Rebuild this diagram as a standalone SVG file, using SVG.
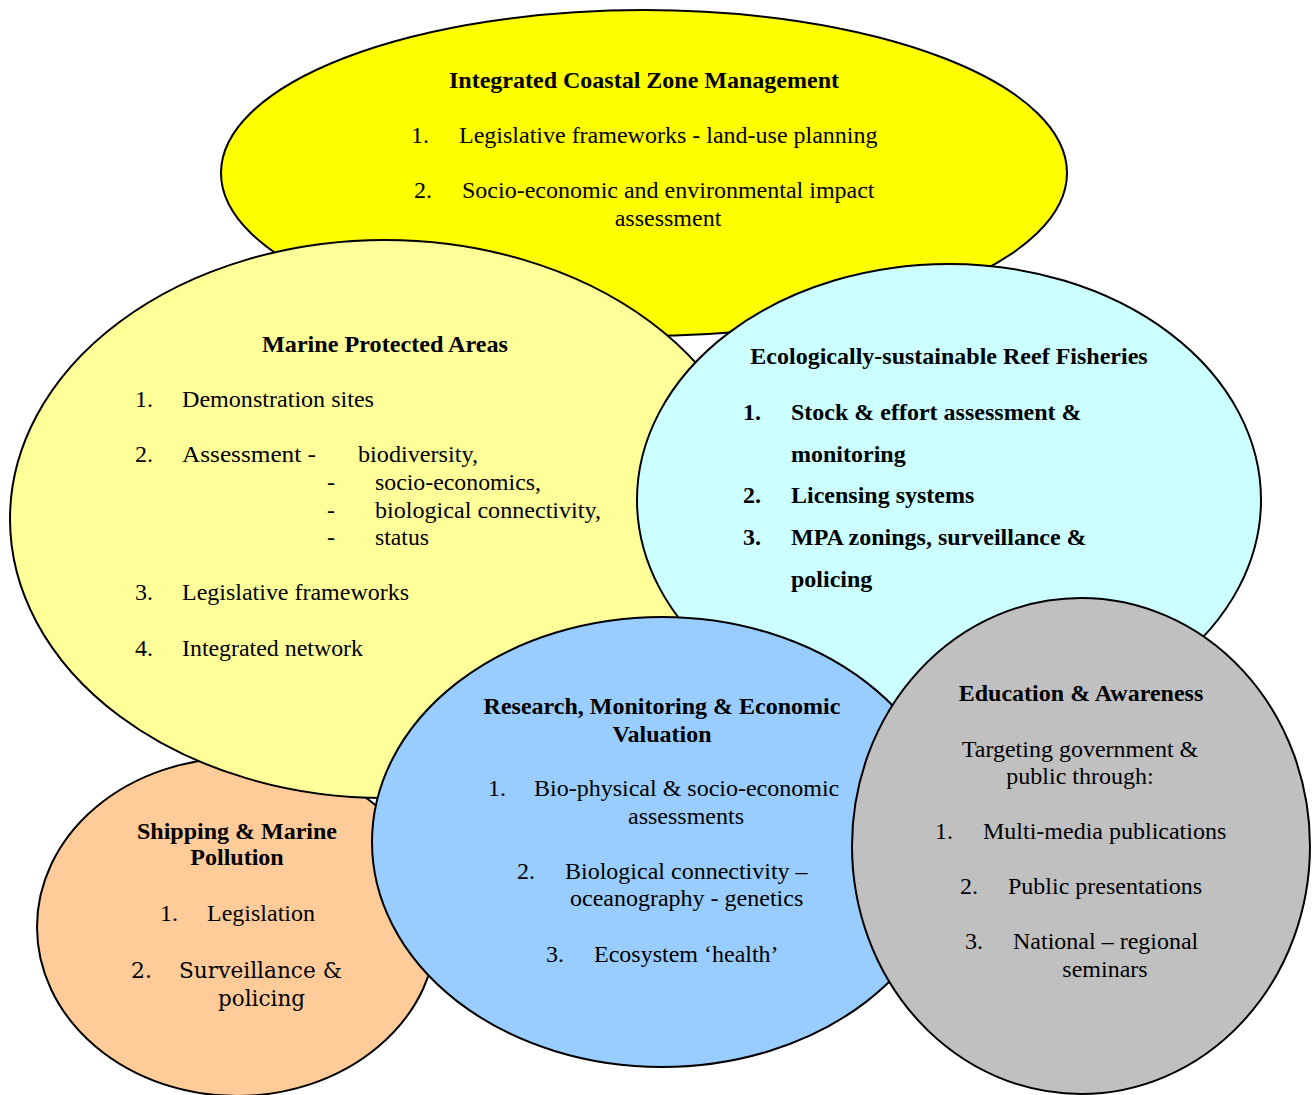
<svg xmlns="http://www.w3.org/2000/svg" width="1316" height="1095" viewBox="0 0 1316 1095">
<style>
.e{stroke:#000;stroke-width:2}
text{font-family:"Liberation Serif","Times New Roman",serif;font-size:24px;fill:#000}
.b{font-weight:bold}
.c{text-anchor:middle}
.alt{font-family:"DejaVu Serif",serif;font-size:22px}
</style>
<rect width="1316" height="1095" fill="#fff"/>
<g id="connectors"></g>
<g id="iczm">
<ellipse class="e" cx="644" cy="173" rx="423" ry="163" fill="#FFFF00"/>
<text class="b c" x="644" y="88">Integrated Coastal Zone Management</text>
<text x="411" y="143">1.</text><text x="459" y="143">Legislative frameworks - land-use planning</text>
<text x="414" y="198">2.</text><text x="462" y="198">Socio-economic and environmental impact</text>
<text class="c" x="668" y="226">assessment</text>
</g>
<g id="shipping">
<ellipse class="e" cx="237" cy="927" rx="200" ry="169" fill="#FFCC99"/>
<text class="b c" x="237" y="839">Shipping &amp; Marine</text>
<text class="b c" x="237" y="865">Pollution</text>
<text x="160" y="921">1.</text><text x="207" y="921">Legislation</text>
<text class="alt" x="131" y="978">2.</text><text class="alt" x="179" y="978" textLength="163" lengthAdjust="spacingAndGlyphs">Surveillance &amp;</text>
<text class="alt" x="218" y="1006" textLength="87" lengthAdjust="spacingAndGlyphs">policing</text>
</g>
<g id="mpa">
<ellipse class="e" cx="385" cy="519" rx="375" ry="279" fill="#FFFF99"/>
<text class="b c" x="385" y="352" textLength="246" lengthAdjust="spacingAndGlyphs">Marine Protected Areas</text>
<text x="135" y="407">1.</text><text x="182" y="407" textLength="192" lengthAdjust="spacingAndGlyphs">Demonstration sites</text>
<text x="135" y="462">2.</text><text x="182" y="462" textLength="134" lengthAdjust="spacingAndGlyphs">Assessment  -</text><text x="358" y="462" textLength="120" lengthAdjust="spacingAndGlyphs">biodiversity,</text>
<text x="327" y="490">-</text><text x="375" y="490" textLength="166" lengthAdjust="spacingAndGlyphs">socio-economics,</text>
<text x="327" y="518">-</text><text x="375" y="518" textLength="226" lengthAdjust="spacingAndGlyphs">biological connectivity,</text>
<text x="327" y="545">-</text><text x="375" y="545" textLength="54" lengthAdjust="spacingAndGlyphs">status</text>
<text x="135" y="600">3.</text><text x="182" y="600" textLength="227" lengthAdjust="spacingAndGlyphs">Legislative frameworks</text>
<text x="135" y="656">4.</text><text x="182" y="656" textLength="181" lengthAdjust="spacingAndGlyphs">Integrated network</text>
</g>
<g id="reef">
<ellipse class="e" cx="949" cy="500" rx="312" ry="236" fill="#CCFFFF"/>
<text class="b c" x="949" y="364">Ecologically-sustainable Reef Fisheries</text>
<text class="b" x="743" y="420">1.</text><text class="b" x="791" y="420">Stock &amp; effort assessment &amp;</text>
<text class="b" x="791" y="462">monitoring</text>
<text class="b" x="743" y="503">2.</text><text class="b" x="791" y="503">Licensing systems</text>
<text class="b" x="743" y="545">3.</text><text class="b" x="791" y="545">MPA zonings, surveillance &amp;</text>
<text class="b" x="791" y="587">policing</text>
</g>
<g id="research">
<ellipse class="e" cx="662" cy="842" rx="290" ry="225" fill="#99CCFF"/>
<text class="b c" x="662" y="714">Research, Monitoring &amp; Economic</text>
<text class="b c" x="662" y="742">Valuation</text>
<text x="488" y="796">1.</text><text x="534" y="796">Bio-physical &amp; socio-economic</text>
<text class="c" x="686" y="824">assessments</text>
<text x="517" y="879">2.</text><text x="565" y="879">Biological connectivity –</text>
<text x="570" y="906">oceanography - genetics</text>
<text x="546" y="962">3.</text><text x="594" y="962">Ecosystem ‘health’</text>
</g>
<g id="education">
<ellipse class="e" cx="1081" cy="846" rx="229" ry="248" fill="#C0C0C0"/>
<text class="b c" x="1081" y="701">Education &amp; Awareness</text>
<text class="c" x="1080" y="757">Targeting government &amp;</text>
<text class="c" x="1080" y="784">public through:</text>
<text x="935" y="839">1.</text><text x="983" y="839">Multi-media publications</text>
<text x="960" y="894">2.</text><text x="1008" y="894">Public presentations</text>
<text x="965" y="949">3.</text><text x="1013" y="949">National – regional</text>
<text class="c" x="1105" y="977">seminars</text>
</g>
</svg>
